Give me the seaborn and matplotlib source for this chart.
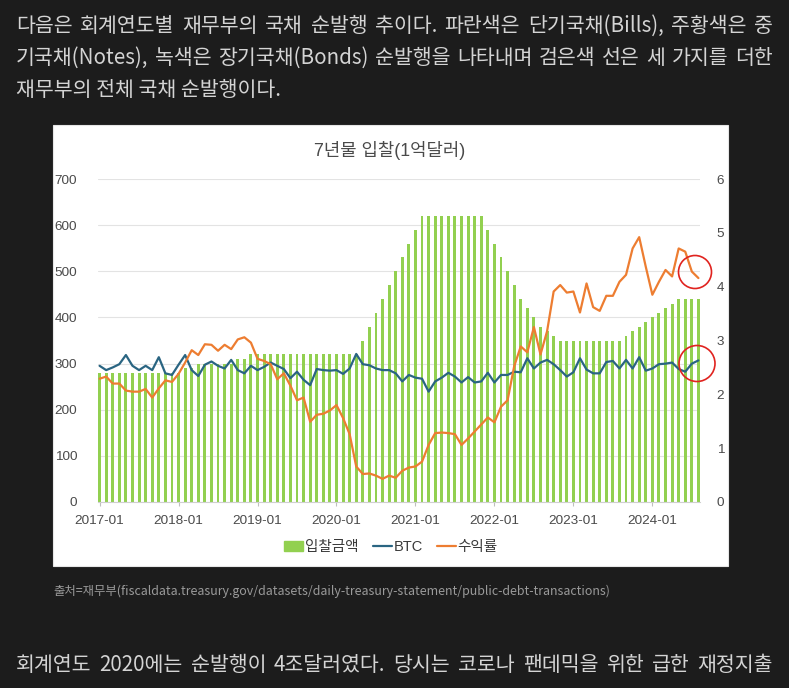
import numpy as np
import pandas as pd
import matplotlib
matplotlib.use('Agg')
import matplotlib.pyplot as plt
from matplotlib.patches import Patch, Rectangle, Circle
from matplotlib.lines import Line2D
import seaborn as sns

# 월별 7년물 입찰 (2017-01 ~ 2024-08)
months = pd.period_range('2017-01', '2024-08', freq='M').strftime('%Y-%m').tolist()

# 입찰금액 (1억달러)
amount = [280] * 13 + [290, 290] + [300] * 6 + [310, 310] + [320] * 17 + \
    [350, 380, 410, 440, 470, 500, 530, 560, 590] + [620] * 10 + \
    [590, 560, 530, 500, 470, 440, 420, 400, 380, 370, 360] + [350] * 10 + \
    [360, 370, 380, 390, 400, 410, 420, 430, 440, 440, 440, 440]

# 응찰률 (BTC)
btc = [2.53, 2.45, 2.50, 2.56, 2.73, 2.53, 2.45, 2.53, 2.45, 2.69, 2.39, 2.36,
       2.55, 2.73, 2.45, 2.34, 2.55, 2.61, 2.53, 2.48, 2.64, 2.45, 2.39, 2.53,
       2.45, 2.51, 2.59, 2.53, 2.47, 2.30, 2.42, 2.27, 2.17, 2.47, 2.45, 2.44,
       2.45, 2.38, 2.48, 2.75, 2.56, 2.54, 2.48, 2.45, 2.45, 2.39, 2.24, 2.36,
       2.31, 2.29, 2.05, 2.24, 2.31, 2.40, 2.33, 2.22, 2.32, 2.22, 2.24, 2.40,
       2.22, 2.36, 2.36, 2.42, 2.41, 2.67, 2.48, 2.59, 2.64, 2.56, 2.45, 2.33,
       2.41, 2.67, 2.46, 2.39, 2.39, 2.60, 2.62, 2.48, 2.64, 2.48, 2.69, 2.44,
       2.48, 2.56, 2.57, 2.59, 2.47, 2.42, 2.57, 2.63]

# 수익률 (%)
yld = [2.29, 2.33, 2.20, 2.20, 2.07, 2.05, 2.05, 2.10, 1.94, 2.11, 2.26, 2.23,
       2.38, 2.59, 2.82, 2.73, 2.93, 2.92, 2.81, 2.92, 2.84, 3.02, 3.06, 2.96,
       2.66, 2.62, 2.56, 2.28, 2.39, 2.16, 1.89, 1.94, 1.49, 1.62, 1.64, 1.70,
       1.80, 1.56, 1.26, 0.66, 0.52, 0.53, 0.49, 0.43, 0.49, 0.45, 0.58, 0.64,
       0.66, 0.75, 1.06, 1.28, 1.29, 1.28, 1.26, 1.06, 1.18, 1.31, 1.44, 1.57,
       1.48, 1.77, 1.89, 2.52, 2.89, 2.78, 3.25, 2.74, 3.17, 3.91, 4.03, 3.89,
       3.91, 3.52, 4.06, 3.62, 3.55, 3.83, 3.83, 4.09, 4.22, 4.71, 4.92, 4.37,
       3.85, 4.09, 4.31, 4.19, 4.71, 4.65, 4.28, 4.16]

title = '7년물 입찰(1억달러)'
legend_labels = ['입찰금액', 'BTC', '수익률']

para_top = [
    '다음은 회계연도별 재무부의 국채 순발행 추이다. 파란색은 단기국채(Bills), 주황색은 중',
    '기국채(Notes), 녹색은 장기국채(Bonds) 순발행을 나타내며 검은색 선은 세 가지를 더한',
]
para_last = '재무부의 전체 국채 순발행이다.'
source = '출처=재무부(fiscaldata.treasury.gov/datasets/daily-treasury-statement/public-debt-transactions)'
para_bottom = '회계연도 2020에는 순발행이 4조달러였다. 당시는 코로나 팬데믹을 위한 급한 재정지출'

df = pd.DataFrame({'month': months, 'amount': amount, 'btc': btc, 'yield': yld})
df['pos'] = np.arange(len(df))

W, H = 789, 688
BG = '#1c1c1c'
TXT = '#d4d4d4'
GREEN = '#92D050'
BLUE = '#2A6582'
ORANGE = '#ED7D31'
GREY = '#4a4a4a'

sns.set_style('white')
plt.rcParams['font.family'] = ['Liberation Sans', 'Noto Sans CJK KR']

fig = plt.figure(figsize=(W / 100, H / 100), dpi=100, facecolor=BG)


def px(x, y):
    return x / W, 1 - y / H


# 차트 이미지 영역 (흰 배경)
fig.add_artist(Rectangle(px(53, 566), (728 - 53) / W, (566 - 125) / H,
                         transform=fig.transFigure, facecolor='white',
                         edgecolor='#e6e6e6', linewidth=0.8, zorder=0))

l, r, t, b = 98, 700, 179, 502
ax = fig.add_axes([l / W, 1 - b / H, (r - l) / W, (b - t) / H])
ax.set_facecolor('none')

sns.barplot(data=df, x='pos', y='amount', native_scale=True, width=0.44,
            color=GREEN, saturation=1, linewidth=0, errorbar=None, ax=ax)
ax.set_xlim(-0.24, len(df) - 1 + 0.24)
ax.set_ylim(0, 700)
ax.set_yticks(range(0, 701, 100))
ax.grid(axis='y', color='#e3e3e3', linewidth=0.8)
ax.set_axisbelow(True)

year_pos = df.loc[df['month'].str.endswith('-01'), 'pos'].tolist()
year_lab = df.loc[df['month'].str.endswith('-01'), 'month'].tolist()
ax.set_xticks(year_pos)
ax.set_xticklabels(year_lab)
ax.tick_params(axis='x', length=3, width=0.8, color='#bfbfbf', pad=6,
               labelsize=9.7, labelcolor=GREY, direction='out', bottom=True)
ax.tick_params(axis='y', length=0, pad=15, labelsize=9.7, labelcolor=GREY)
for s in ['left', 'right', 'top']:
    ax.spines[s].set_visible(False)
ax.spines['bottom'].set_color('#d0d0d0')
ax.spines['bottom'].set_linewidth(0.8)
ax.set_xlabel('')
ax.set_ylabel('')

ax2 = ax.twinx()
sns.lineplot(data=df, x='pos', y='btc', color=BLUE, linewidth=1.6, ax=ax2)
sns.lineplot(data=df, x='pos', y='yield', color=ORANGE, linewidth=1.6, ax=ax2)
ax2.set_ylim(0, 6)
ax2.set_yticks(range(0, 7))
ax2.tick_params(axis='y', length=0, pad=12, labelsize=9.7, labelcolor=GREY)
for s in ax2.spines.values():
    s.set_visible(False)
ax2.set_ylabel('')
ax2.set_xlim(ax.get_xlim())

fig.text(*px(390, 151), title, ha='center', va='center', fontsize=12.8, color=GREY)

handles = [Patch(color=GREEN), Line2D([], [], color=BLUE, lw=1.6),
           Line2D([], [], color=ORANGE, lw=1.6)]
fig.legend(handles, legend_labels, loc='center', bbox_to_anchor=px(391, 547),
           ncol=3, frameon=False, fontsize=10.5, handlelength=1.3,
           handletextpad=0.1, columnspacing=1.0, labelcolor='#3a3a3a')

# 빨간 원 표시
for cx, cy, rad in [(695, 272, 16.5), (697, 363.5, 18)]:
    fig.add_artist(Circle((cx / 100, (H - cy) / 100), rad / 100,
                          transform=fig.dpi_scale_trans, fill=False,
                          edgecolor='#e0231f', linewidth=1.2, zorder=10))

# 본문 텍스트
body_font = ['Noto Sans CJK KR', 'DejaVu Sans']
BODY = 14.8
renderer = fig.canvas.get_renderer()


def justified(line, y, x0=16, x1=773, size=BODY, color=TXT):
    words = line.split(' ')
    arts = [fig.text(0, 0, w, fontsize=size, color=color, family=body_font,
                     va='center', ha='left') for w in words]
    widths = [a.get_window_extent(renderer).width for a in arts]
    gap = (x1 - x0 - sum(widths)) / (len(words) - 1)
    x = x0
    for a, w in zip(arts, widths):
        a.set_position(px(x, y))
        x += w + gap


justified(para_top[0], 26)
justified(para_top[1], 58)
fig.text(*px(16, 90), para_last, fontsize=BODY, color=TXT, family=body_font,
         va='center', ha='left')

src = fig.text(*px(53, 591), source, fontsize=9.5, color='#9a9a9a',
               family=body_font, va='center', ha='left')
sw = src.get_window_extent(renderer).width
src.set_fontsize(9.5 * 556 / sw)

justified(para_bottom, 665)

fig.savefig('out.png', dpi=100, facecolor=BG)
